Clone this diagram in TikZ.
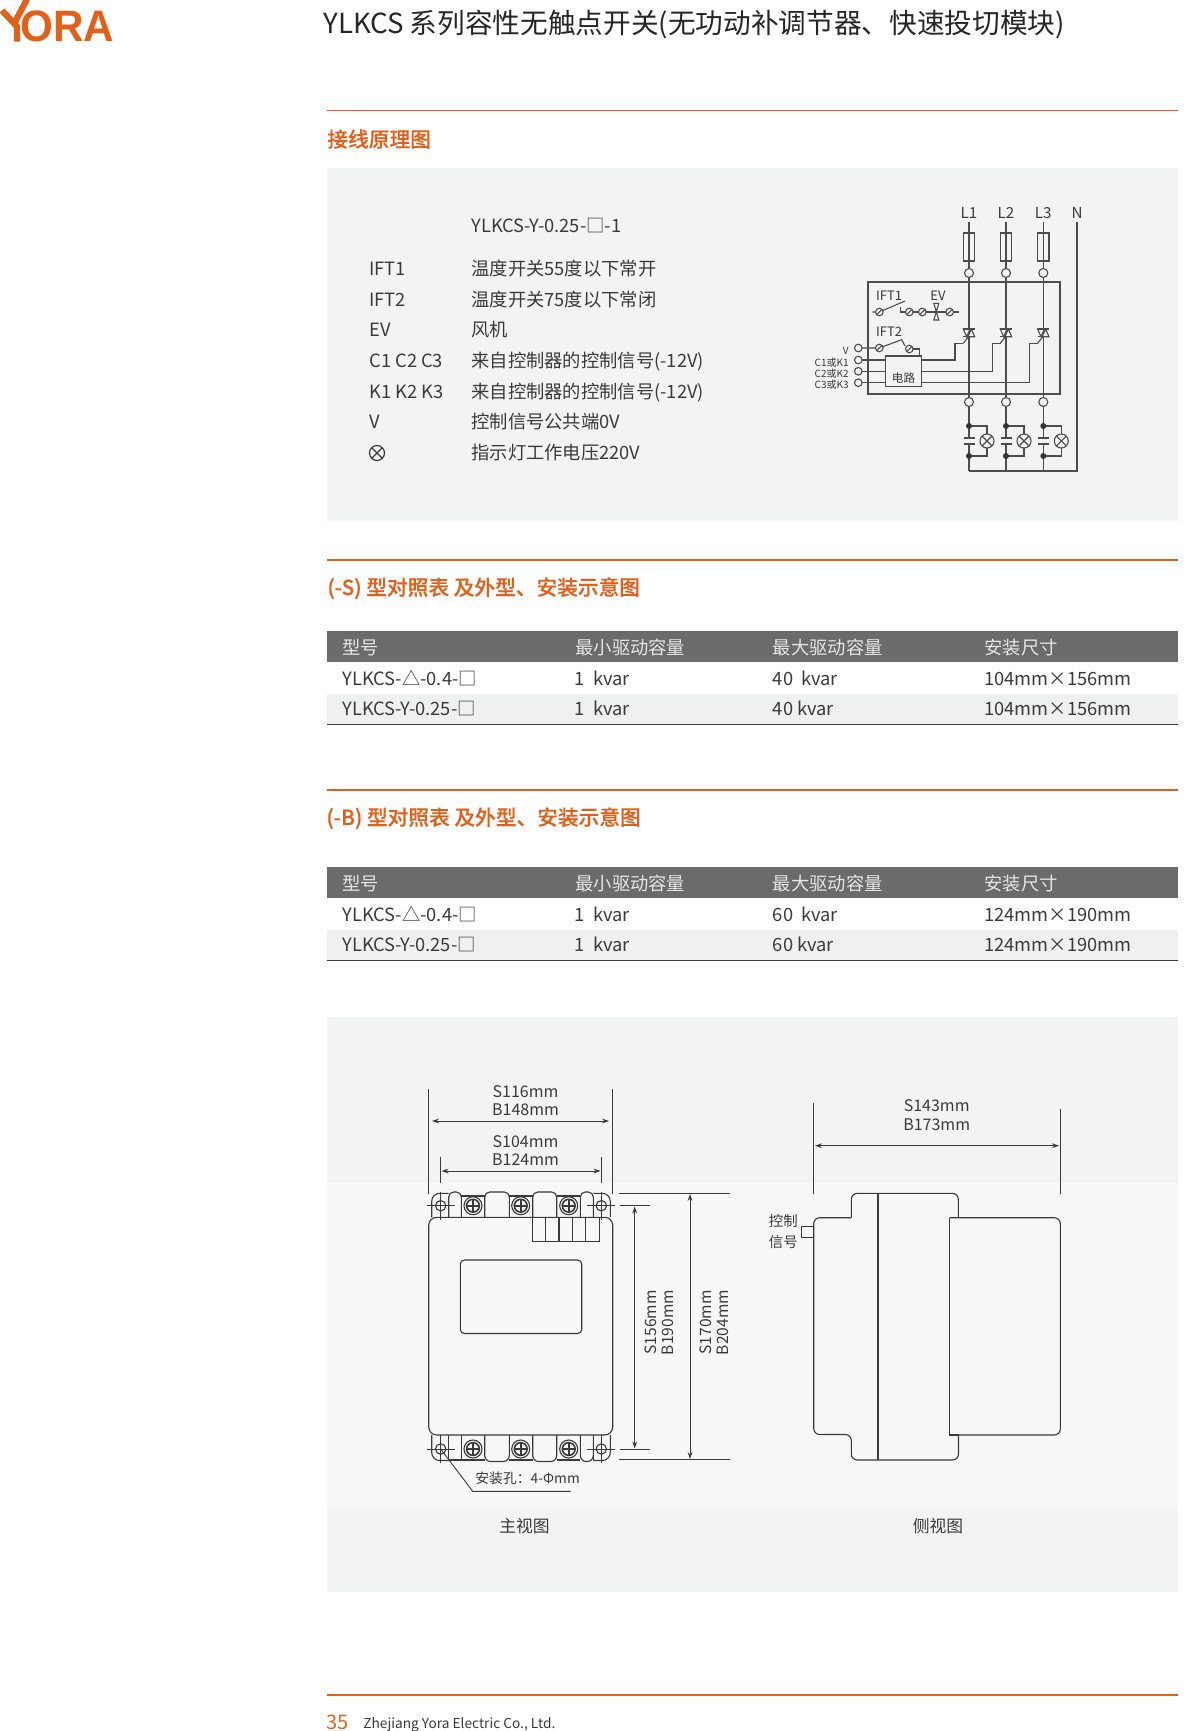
\documentclass[tikz,border=0pt]{standalone}
\usepackage{fontspec}
\setmainfont{Noto Sans CJK SC}
\newfontfamily\medfont[FakeBold=0.2]{Noto Sans CJK SC Medium}
\usetikzlibrary{arrows.meta}
\definecolor{yorange}{HTML}{E2601A}
\definecolor{txt}{HTML}{3A3A3A}
\definecolor{panel}{HTML}{F2F3F3}
\definecolor{panelb}{HTML}{F6F7F7}
\definecolor{thead}{HTML}{6C6B6B}
\definecolor{trow}{HTML}{EFF0F0}
\definecolor{wire}{HTML}{4E4C4B}
\tikzset{
  tx/.style={inner sep=0pt,text=txt,text height=0.8em,text depth=0.2em},
  lbl/.style={tx,anchor=west,font=\fontsize{9.15}{11}\selectfont},
  hdr/.style={lbl,text=white!90!black},
  sect/.style={inner sep=0pt,anchor=west,text=yorange,text height=0.8em,text depth=0.2em,font=\medfont\fontsize{10.35}{12}\selectfont},
  orule/.style={draw=yorange,line width=0.75pt},
  dim/.style={tx,font=\fontsize{8}{9}\selectfont},
  dimv/.style={dim,rotate=90,font=\fontsize{7.8}{9}\selectfont},
  cirl/.style={tx,font=\fontsize{7.6}{8}\selectfont},
  cirs/.style={tx,anchor=east,font=\fontsize{5}{6}\selectfont},
  wr/.style={draw=wire,line width=0.55pt},
  dw/.style={draw=txt,line width=0.55pt},
  thin/.style={draw=txt,line width=0.45pt},
  dimar/.style={draw=txt,line width=0.45pt,{Stealth[length=3.5pt,width=2.4pt]}-{Stealth[length=3.5pt,width=2.4pt]}},
  term/.style={circle,wr,fill=panel,minimum size=4.5pt,inner sep=0pt},
  sw/.style={circle,wr,fill=panel,minimum size=3.8pt,inner sep=0pt},
}
\begin{document}
\begin{tikzpicture}[x=0.5pt,y=-0.5pt]
\useasboundingbox (0,0) rectangle (1200,1731);
\fill[white] (0,0) rectangle (1200,1731);
% logo
\draw[yorange,line width=3.1pt] (2,10.5) -- (17,26.5) -- (17,41.5);
\draw[yorange,line width=3.1pt] (27,-1) -- (14.5,23);
\node[inner sep=0pt,anchor=base west,text=yorange,xscale=0.96] (logotext) at (20,41) {\fontspec{Liberation Sans Bold}\fontsize{22}{24}\selectfont ORA};
% title
\node[tx,anchor=west,text=black!85,font=\fontsize{13.83}{16}\selectfont] (title) at (323,27) {YLKCS 系列容性无触点开关(无功动补调节器、快速投切模块)};
% section 1
\draw[orule] (327,110.5) -- (1178,110.5);
\node[sect] (h1) at (327,141) {接线原理图};
\fill[panel] (327,168) rectangle (1178,521);
\node[lbl] (t0) at (471,226) {YLKCS-Y-0.25-□-1};
\foreach \y/\a/\b in {269.5/IFT1/温度开关55度以下常开,300.5/IFT2/温度开关75度以下常闭,330.5/EV/风机,361/C1 C2 C3/来自控制器的控制信号(-12V),392/K1 K2 K3/来自控制器的控制信号(-12V),422/V/控制信号公共端0V}{
  \node[lbl] at (369,\y) {\a};
  \node[lbl] at (471,\y) {\b};
}
\node[lbl] (lampd) at (471,453) {指示灯工作电压220V};
\draw[dw,line width=0.6pt] (377,453) circle (7.5) (371.7,447.7) -- (382.3,458.3) (371.7,458.3) -- (382.3,447.7);
% circuit
\draw[wr] (868,282) rectangle (1060,394);
\foreach \x/\n in {969/L1,1006/L2,1043.3/L3}{
  \node[cirl] at (\x,212) {\n};
  \draw[wr] (\x,222) -- (\x,471);
  \draw[wr,fill=panel] (\x-5.7,233) rectangle (\x+5.7,261);
  \draw[wr] (\x,222) -- (\x,273);
  \node[term] at (\x,273) {};
  \node[term] at (\x,402) {};
  % triac
  \draw[wr,fill=panel] (\x-5.7,329) -- (\x+1,329) -- (\x-2.3,336.7) -- cycle;
  \draw[wr,fill=panel] (\x-1,336.7) -- (\x+5.7,336.7) -- (\x+2.3,329) -- cycle;
  \draw[wr] (\x-5.7,329) -- (\x+5.7,329) (\x-5.7,336.7) -- (\x+5.7,336.7);
  % capacitor
  \fill[panel] (\x-3,439) rectangle (\x+3,443);
  \draw[wr] (\x-5.5,438) -- (\x+5.5,438) (\x-5.5,444) -- (\x+5.5,444);
  % lamp
  \draw[wr] (\x,426) -- (\x+18,426) -- (\x+18,434) (\x,456) -- (\x+18,456) -- (\x+18,448);
  \fill[black!80] (\x,426) circle (3) (\x,456) circle (3);
  \draw[wr,fill=panel] (\x+18,441) circle (7);
  \draw[wr] (\x+13,436) -- (\x+23,446) (\x+13,446) -- (\x+23,436);
  % gate
  \draw[wr] (\x-5.7,343.3) -- (\x,336);
}
\node[cirl] (nn) at (1077,212) {N};
\draw[wr] (1077,222) -- (1077,471) -- (969,471);
% IFT1
\node[cirl,font=\fontsize{6.5}{8}\selectfont] (ift1) at (889,294) {IFT1};
\node[cirl,font=\fontsize{6.5}{8}\selectfont] (ev) at (938,294.5) {EV};
\draw[wr] (872.3,312) -- (879.3,312) -- (905,301);
\draw[wr] (900.7,307.3) -- (900.7,312) -- (922.3,312) -- (958.7,312);
\node[sw] (a1) at (879.3,312) {};
\node[sw] (a2) at (909.3,312) {};
\node[sw] (a3) at (922.3,312) {};
\node[sw] (a4) at (949.7,312) {};
\foreach \x in {879.3,909.3,922.3,949.7}{\draw[wr] (\x-2.6,314.6) -- (\x+2.6,309.4);}
\draw[wr,fill=panel] (933.8,303.3) -- (938.8,303.3) -- (933.8,320) -- (938.8,320) -- cycle;
% IFT2
\node[cirl,font=\fontsize{6.5}{8}\selectfont] (ift2) at (889,330.7) {IFT2};
\draw[wr] (858.3,348) -- (879.3,348) -- (901.7,339.7) -- (905,346);
\draw[wr] (909.3,349) -- (919.3,349) -- (919.3,356);
\node[sw] (b1) at (879.3,348) {};
\node[sw] (b2) at (909.3,349) {};
\foreach \x/\y in {879.3/348,909.3/349}{\draw[wr] (\x-2.6,\y+2.6) -- (\x+2.6,\y-2.6);}
\foreach \y/\t/\x in {360/C1或K1/955,371.3/C2或K2/992.3,382.7/C3或K3/1029.3}{
  \node[cirs] at (849,\y) {\t};
  \draw[wr] (858.3,\y) -- (885.3,\y);
  \node[sw] at (858.3,\y) {};
  \draw[wr] (921.7,\y) -- (\x,\y) -- (\x,343.3) -- (\x+8.3,343.3);
}
\node[cirs] (vv) at (849,348) {V};
\node[sw] at (858.3,348) {};
\draw[wr,fill=panel] (885.3,356) rectangle (921.7,386.7);
\node[tx,font=\fontsize{5.8}{6}\selectfont] (circ) at (903.5,376.5) {电路};
% tables
\draw[orule] (327,560) -- (1178,560);
\node[sect] (h2) at (327,589) {(-S) 型对照表 及外型、安装示意图};
\draw[orule] (327,790) -- (1178,790);
\node[sect] (h3) at (326,819) {(-B) 型对照表 及外型、安装示意图};
\foreach \top/\m/\s in {631/40/104mm×156mm,867/60/124mm×190mm}{
  \fill[thead] (327,\top) rectangle (1178,\top+31);
  \fill[trow] (327,\top+63) rectangle (1178,\top+93.5);
  \draw[draw=txt,line width=0.7pt] (327,\top+93.7) -- (1178,\top+93.7);
  \foreach \x/\h in {342/型号,575/最小驱动容量,772.5/最大驱动容量,984/安装尺寸}{
    \node[hdr] at (\x,\top+17) {\h};
  }
  \node[lbl] at (342,\top+48.5) {YLKCS-△-0.4-□};
  \node[lbl] at (342,\top+78.5) {YLKCS-Y-0.25-□};
  \node[lbl] at (574.5,\top+48.5) {1\ \ kvar};
  \node[lbl] at (574.5,\top+78.5) {1\ \ kvar};
  \node[lbl] at (772.5,\top+48.5) {\m\ \ kvar};
  \node[lbl] at (772.5,\top+78.5) {\m\ kvar};
  \node[lbl] at (984,\top+48.5) {\s};
  \node[lbl] at (984,\top+78.5) {\s};
}
% lower panel
\fill[panel] (327,1017) rectangle (1178,1182);
\fill[panelb] (327,1182) rectangle (1178,1509);
\fill[panel] (327,1509) rectangle (1178,1592);
% front dims
\draw[thin] (428.7,1089.3) -- (428.7,1194) (612.7,1089.3) -- (612.7,1194);
\draw[thin] (440.7,1156.7) -- (440.7,1182.7) (601.3,1156.7) -- (601.3,1182.7);
\coordinate (f1l) at (432,1121); \coordinate (f1r) at (609,1121);
\draw[dimar] (f1l) -- (f1r);
\coordinate (f2l) at (441.5,1171); \coordinate (f2r) at (600.5,1171);
\draw[dimar] (f2l) -- (f2r);
\node[dim] (d1) at (525.5,1091) {S116mm};
\node[dim] (d2) at (525.5,1109.5) {B148mm};
\node[dim] (d3) at (525.5,1141) {S104mm};
\node[dim] (d4) at (525.5,1159.5) {B124mm};
% top flange
\draw[dw,rounded corners=4pt] (431.7,1217.3) -- (431.7,1193.3) -- (448.7,1193.3);
\draw[dw,rounded corners=4pt] (610.3,1217.3) -- (610.3,1193.3) -- (593.3,1193.3);
\foreach \a/\b in {448.7/461.3,484.7/509.3,532.7/556.7,580.3/593.3}{
  \draw[dw,rounded corners=2.5pt] (\a,1217.3) -- (\a,1192) -- (\b,1192) -- (\b,1217.3);
}
\foreach \a/\b in {461.3/484.7,509.3/532.7,556.7/580.3}{\draw[dw] (\a,1196) -- (\b,1196);}
% bottom flange
\draw[dw,rounded corners=4pt] (431.7,1435) -- (431.7,1460.5) -- (448.7,1460.5);
\draw[dw,rounded corners=4pt] (610.3,1435) -- (610.3,1460.5) -- (593.3,1460.5);
\draw[dw] (448.7,1435) -- (448.7,1460.5) (593.3,1435) -- (593.3,1460.5);
\draw[dw] (448.7,1460) -- (461.3,1460) (461.3,1435) -- (461.3,1460);
\foreach \a/\b in {484.7/509.3,532.7/556.7,580.3/593.3}{
  \draw[dw,rounded corners=3pt] (\a,1435) -- (\a,1461.5) -- (\b,1461.5) -- (\b,1435);
}
\foreach \a/\b in {461.3/484.7,509.3/532.7,556.7/580.3}{\draw[dw] (\a,1460) -- (\b,1460);}
% body
\draw[dw,fill=panelb,rounded corners=4pt] (428.7,1217.3) rectangle (612.7,1435);
\draw[dw,rounded corners=2pt] (460.3,1260) rectangle (581.7,1333.5);
\draw[dw] (532.3,1217.3) rectangle (599.3,1241.3);
\foreach \x in {545.7,559,572.3,585.7}{\draw[dw] (\x,1217.3) -- (\x,1241.3);}
% screws and holes
\foreach \y in {1205.7,1449}{
  \foreach \x in {473,520.7,568.7}{
    \draw[dw] (\x,\y) circle (9);
    \draw[dw,line width=0.8pt] (\x,\y) circle (6.4);
    \draw[dw,line width=0.8pt] (\x-6.4,\y) -- (\x+6.4,\y) (\x,\y-6.4) -- (\x,\y+6.4);
  }
  \foreach \x in {440.7,601.3}{
    \draw[dw,fill=panelb] (\x,\y) circle (5.2);
    \draw[thin] (\x-14,\y) -- (\x+14,\y) (\x,\y-14) -- (\x,\y+14);
  }
}
% leader
\coordinate (lh) at (440.7,1449);
\draw[thin] (lh) -- (472.7,1491.3) -- (570.7,1491.3);
\node[tx,anchor=west,font=\fontsize{6.9}{9}\selectfont] (hole) at (475,1477.5) {安装孔：4-Φmm};
% right dims of front
\draw[thin] (619.7,1205.7) -- (650,1205.7) (619.7,1449) -- (650,1449);
\draw[thin] (618.7,1193.3) -- (730,1193.3) (618.7,1459.7) -- (730,1459.7);
\coordinate (v1t) at (634.7,1206.5); \coordinate (v1b) at (634.7,1448.5);
\draw[dimar] (v1t) -- (v1b);
\coordinate (v2t) at (690,1194); \coordinate (v2b) at (690,1459);
\draw[dimar] (v2t) -- (v2b);
\node[dimv] (d5) at (650.8,1322.5) {S156mm};
\node[dimv] (d6) at (667.5,1322.5) {B190mm};
\node[dimv] (d7) at (705,1322.5) {S170mm};
\node[dimv] (d8) at (722.5,1322.5) {B204mm};
\node[tx,font=\fontsize{8.4}{10}\selectfont] (fv) at (524.5,1526) {主视图};
% side view
\draw[thin,line width=0.55pt] (813.7,1103.3) -- (813.7,1194) (1060.3,1108.7) -- (1060.3,1194);
\coordinate (s1) at (815,1145.7); \coordinate (s2) at (1059,1145.7);
\draw[dimar,line width=0.55pt] (s1) -- (s2);
\node[dim] (d9) at (936.7,1105.7) {S143mm};
\node[dim] (d10) at (936.7,1124.3) {B173mm};
\draw[dw,rounded corners=3pt] (851.3,1217.7) -- (851.3,1193.3) -- (958.3,1193.3) -- (958.3,1217.7);
\draw[dw,rounded corners=3pt] (949.7,1217.7) -- (1060.3,1217.7) -- (1060.3,1435) -- (949.7,1435);
\draw[dw] (949.7,1217.7) -- (949.7,1435) -- (958.5,1435) -- (958.5,1445);
\draw[dw,rounded corners=3pt] (851.3,1217.7) -- (813.7,1217.7) -- (813.7,1434.5) -- (851.3,1434.5) -- (851.3,1460) -- (958.5,1460) -- (958.5,1435);
\draw[dw] (878,1193.3) -- (878,1460);
\draw[dw] (813.7,1226.7) -- (801.7,1226.7) -- (801.7,1237.7) -- (813.7,1237.7);
\node[tx,font=\fontsize{7.2}{9}\selectfont] (k1) at (783.3,1220.7) {控制};
\node[tx,font=\fontsize{7.2}{9}\selectfont] (k2) at (783.3,1241) {信号};
\node[tx,font=\fontsize{8.4}{10}\selectfont] (sv) at (938,1526) {侧视图};
% footer
\draw[orule] (327,1695) -- (1178,1695);
\node[tx,anchor=west,text=yorange,font=\fontsize{10}{12}\selectfont] (pg) at (326,1723) {35};
\node[tx,anchor=west,font=\fontsize{6.85}{9}\selectfont] (co) at (363,1722.5) {Zhejiang Yora Electric Co., Ltd.};
\end{tikzpicture}
\end{document}
